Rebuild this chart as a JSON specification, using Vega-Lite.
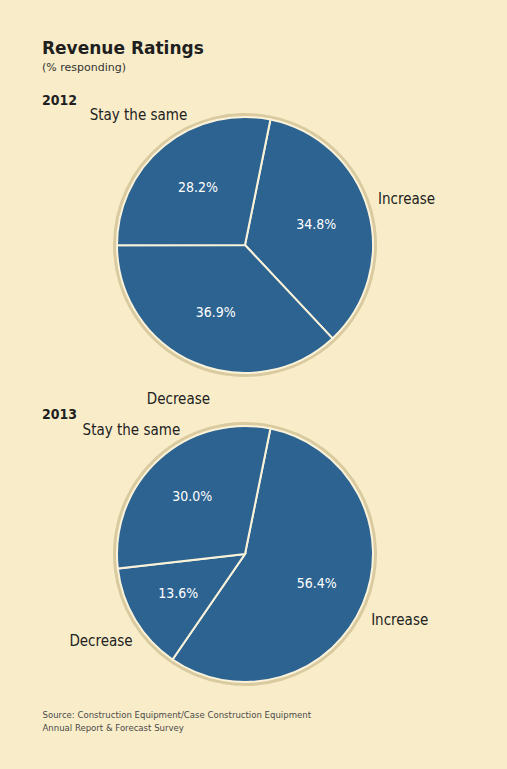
{
  "$schema": "https://vega.github.io/schema/vega-lite/v6.json",
  "background": "#F9EDC9",
  "padding": {"left": 42, "top": 40, "right": 59, "bottom": 33},
  "title": {
    "text": "Revenue Ratings",
    "subtitle": "(% responding)",
    "anchor": "start",
    "font": "DejaVu Sans",
    "fontSize": 17,
    "fontWeight": "bold",
    "color": "#1f1f1f",
    "subtitleFont": "DejaVu Sans",
    "subtitleFontSize": 11,
    "subtitleColor": "#333333",
    "subtitlePadding": 4,
    "offset": 20
  },
  "datasets": {
    "ratings": [
      {"year": "2012", "category": "Increase", "pct": 34.8},
      {"year": "2012", "category": "Decrease", "pct": 36.9},
      {"year": "2012", "category": "Stay the same", "pct": 28.2},
      {"year": "2013", "category": "Increase", "pct": 56.4},
      {"year": "2013", "category": "Decrease", "pct": 13.6},
      {"year": "2013", "category": "Stay the same", "pct": 30.0}
    ],
    "source": [
      {"note": "Source: Construction Equipment/Case Construction Equipment\nAnnual Report & Forecast Survey"}
    ]
  },
  "spacing": 0,
  "vconcat": [
    {
      "title": {"text": "2012", "anchor": "start", "font": "DejaVu Sans Condensed, sans-serif", "fontSize": 14, "fontWeight": "bold", "color": "#1f1f1f", "offset": 0},
      "width": 406,
      "height": 256,
      "data": {"name": "ratings"},
      "transform": [
        {"filter": "datum.year == '2012'"},
        {"calculate": "indexof(['Increase', 'Decrease', 'Stay the same'], datum.category)", "as": "slice_order"},
        {"calculate": "format(datum.pct, '.1f') + '%'", "as": "pct_label"}
      ],
      "encoding": {
        "theta": {"field": "pct", "type": "quantitative", "stack": true, "scale": {"range": [0.2, 6.4832]}},
        "order": {"field": "slice_order", "type": "quantitative"}
      },
      "layer": [
        {"mark": {"type": "arc", "outerRadius": 132, "fill": "#CDBB8E", "opacity": 0.7}},
        {"mark": {"type": "arc", "outerRadius": 128, "fill": "#2D6390", "stroke": "#FAF3DA", "strokeWidth": 2}},
        {
          "mark": {"type": "text", "radius": 74, "fill": "white", "fontSize": 14, "font": "DejaVu Sans Condensed, sans-serif"},
          "encoding": {"text": {"field": "pct_label"}}
        },
        {
          "mark": {"type": "text", "radius": 168, "fill": "#222222", "fontSize": 15, "font": "DejaVu Sans Condensed, sans-serif"},
          "encoding": {"text": {"field": "category"}}
        }
      ]
    },
    {
      "title": {"text": "2013", "anchor": "start", "font": "DejaVu Sans Condensed, sans-serif", "fontSize": 14, "fontWeight": "bold", "color": "#1f1f1f", "offset": 0},
      "width": 406,
      "height": 256,
      "data": {"name": "ratings"},
      "transform": [
        {"filter": "datum.year == '2013'"},
        {"calculate": "indexof(['Increase', 'Decrease', 'Stay the same'], datum.category)", "as": "slice_order"},
        {"calculate": "format(datum.pct, '.1f') + '%'", "as": "pct_label"}
      ],
      "encoding": {
        "theta": {"field": "pct", "type": "quantitative", "stack": true, "scale": {"range": [0.2, 6.4832]}},
        "order": {"field": "slice_order", "type": "quantitative"}
      },
      "layer": [
        {"mark": {"type": "arc", "outerRadius": 132, "fill": "#CDBB8E", "opacity": 0.7}},
        {"mark": {"type": "arc", "outerRadius": 128, "fill": "#2D6390", "stroke": "#FAF3DA", "strokeWidth": 2}},
        {
          "mark": {"type": "text", "radius": 78, "fill": "white", "fontSize": 14, "font": "DejaVu Sans Condensed, sans-serif"},
          "encoding": {"text": {"field": "pct_label"}}
        },
        {
          "mark": {"type": "text", "radius": 168, "fill": "#222222", "fontSize": 15, "font": "DejaVu Sans Condensed, sans-serif"},
          "encoding": {"text": {"field": "category"}}
        }
      ]
    },
    {
      "width": 1,
      "height": 50,
      "data": {"name": "source"},
      "mark": {"type": "text", "align": "left", "baseline": "top", "dy": 24, "lineBreak": "\n", "lineHeight": 13, "fontSize": 9.5, "fill": "#4a4a4a", "font": "DejaVu Sans Condensed, sans-serif"},
      "encoding": {"text": {"field": "note"}, "y": {"value": 0}}
    }
  ],
  "config": {"view": {"stroke": null}}
}
